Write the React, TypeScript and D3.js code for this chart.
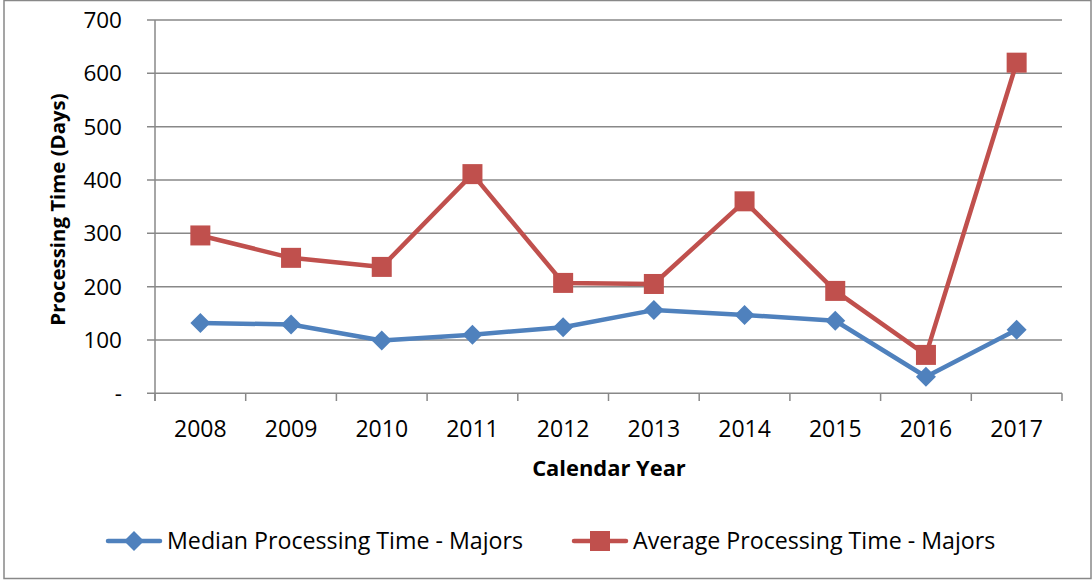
import React from "react";
import * as d3 from "d3";

const years = ["2008", "2009", "2010", "2011", "2012", "2013", "2014", "2015", "2016", "2017"];
const medianValues = [132, 129, 99, 110, 124, 156, 147, 136, 31, 119];
const averageValues = [296, 254, 237, 411, 207, 205, 360, 192, 72, 620];
const yTicks = [0, 100, 200, 300, 400, 500, 600, 700];
const seriesNames = ["Median Processing Time - Majors", "Average Processing Time - Majors"];

const W = 1092;
const H = 580;
const FONT = "'Open Sans', sans-serif";
const BLUE = "#4F81BD";
const RED = "#C0504D";
const GRID = "#888888";

export default function App() {
  const x = d3.scaleBand<string>().domain(years).range([155, 1062]);
  const y = d3.scaleLinear().domain([0, 700]).range([393.3, 20]);
  const cx = (yr: string) => (x(yr) as number) + x.bandwidth() / 2;
  const line = d3
    .line<number>()
    .x((_, i) => cx(years[i]))
    .y((d) => y(d));

  const diamond = (px: number, py: number, r: number) =>
    `M${px},${py - r}L${px + r},${py}L${px},${py + r}L${px - r},${py}Z`;

  const boundaries = d3.range(years.length + 1).map((i) => 155 + i * x.bandwidth());

  return (
    <svg
      width={W}
      height={H}
      style={{ position: "absolute", left: 0, top: 0, background: "#fff" }}
      fontFamily={FONT}
    >
      <rect x={4} y={0.5} width={1087} height={578} fill="#fff" stroke={GRID} strokeWidth={1.5} />
      {yTicks.map((t) => (
        <g key={t}>
          <line x1={147} x2={1062} y1={y(t)} y2={y(t)} stroke={GRID} strokeWidth={1.5} />
          <text x={122} y={y(t)} dy="0.35em" textAnchor="end" fontSize={22.5} fill="#000">
            {t === 0 ? "-" : t}
          </text>
        </g>
      ))}
      <line x1={155} x2={155} y1={20} y2={401} stroke={GRID} strokeWidth={1.5} />
      {boundaries.map((b, i) => (
        <line key={i} x1={b} x2={b} y1={393.3} y2={401} stroke={GRID} strokeWidth={1.5} />
      ))}
      {years.map((yr) => (
        <text key={yr} x={cx(yr)} y={437} textAnchor="middle" fontSize={23} fill="#000">
          {yr}
        </text>
      ))}
      <text x={609} y={476} textAnchor="middle" fontSize={21.9} fontWeight="bold" fill="#000">
        Calendar Year
      </text>
      <text
        transform={`translate(65,209.5) rotate(-90)`}
        textAnchor="middle"
        fontSize={20.4}
        fontWeight="bold"
        fill="#000"
      >
        Processing Time (Days)
      </text>

      <path d={line(averageValues) || ""} fill="none" stroke={RED} strokeWidth={4.5} strokeLinejoin="round" />
      {averageValues.map((v, i) => (
        <rect key={i} x={cx(years[i]) - 10} y={y(v) - 10} width={20} height={20} fill={RED} />
      ))}
      <path d={line(medianValues) || ""} fill="none" stroke={BLUE} strokeWidth={4.5} strokeLinejoin="round" />
      {medianValues.map((v, i) => (
        <path key={i} d={diamond(cx(years[i]), y(v), 10)} fill={BLUE} />
      ))}

      <line x1={108} x2={160} y1={541} y2={541} stroke={BLUE} strokeWidth={4.5} strokeLinecap="round" />
      <path d={diamond(134, 541, 10)} fill={BLUE} />
      <text x={167} y={541} dy="0.35em" fontSize={23.2} fill="#000">
        {seriesNames[0]}
      </text>
      <line x1={574} x2={626} y1={541} y2={541} stroke={RED} strokeWidth={4.5} strokeLinecap="round" />
      <rect x={590} y={531} width={20} height={20} fill={RED} />
      <text x={633} y={541} dy="0.35em" fontSize={23.2} fill="#000">
        {seriesNames[1]}
      </text>
    </svg>
  );
}
